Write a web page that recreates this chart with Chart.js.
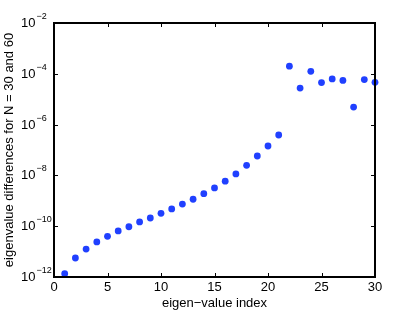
<!DOCTYPE html>
<html>
<head>
<meta charset="utf-8">
<script src="https://cdn.jsdelivr.net/npm/chart.js@4"></script>
<style>
  html, body { margin: 0; padding: 0; background: #fff; }
  #wrap { width: 413px; height: 311px; }
</style>
</head>
<body>
<div id="wrap"><canvas id="chart"></canvas></div>
<script>
const xIndex = [1, 2, 3, 4, 5, 6, 7, 8, 9, 10, 11, 12, 13, 14, 15, 16, 17, 18, 19, 20, 21, 22, 23, 24, 25, 26, 27, 28, 29, 30];
const yDiffs = [1.35e-12, 5.6e-12, 1.26e-11, 2.4e-11, 4.0e-11, 6.5e-11, 9.5e-11, 1.47e-10, 2.1e-10, 3.2e-10,
  4.8e-10, 7.4e-10, 1.15e-9, 1.9e-9, 3.2e-9, 5.9e-9, 1.14e-8, 2.5e-8, 5.8e-8, 1.44e-7,
  3.9e-7, 2.0e-4, 2.75e-5, 1.25e-4, 4.5e-5, 6.3e-5, 5.5e-5, 4.9e-6, 5.9e-5, 4.6e-5];
const yTickExps = [-12, -10, -8, -6, -4, -2];
const xTicks = [0, 5, 10, 15, 20, 25, 30];

const font = '"Liberation Sans", Arial, sans-serif';

const points = xIndex.map((x, i) => ({ x: x, y: yDiffs[i] }));

// box, inward ticks and 10^n labels like matlab
const boxPlugin = {
  id: "box",
  afterDraw(chart) {
    const ctx = chart.ctx;
    const a = chart.chartArea;
    const xs = chart.scales.x, ys = chart.scales.y;
    ctx.save();
    ctx.strokeStyle = "#000";
    ctx.lineWidth = 1;
    xTicks.forEach(t => {
      const px = Math.round(xs.getPixelForValue(t)) + 0.5;
      ctx.beginPath();
      ctx.moveTo(px, a.bottom); ctx.lineTo(px, a.bottom - 4);
      ctx.moveTo(px, a.top); ctx.lineTo(px, a.top + 4);
      ctx.stroke();
    });
    yTickExps.forEach(e => {
      const py = Math.round(ys.getPixelForValue(Math.pow(10, e))) + 0.5;
      ctx.beginPath();
      ctx.moveTo(a.left, py); ctx.lineTo(a.left + 4, py);
      ctx.moveTo(a.right, py); ctx.lineTo(a.right - 4, py);
      ctx.stroke();
      ctx.fillStyle = "#000";
      ctx.textBaseline = "middle";
      ctx.textAlign = "left";
      ctx.font = "13px " + font;
      ctx.fillText("10", 21, py);
      const w = ctx.measureText("10").width;
      ctx.font = "9px " + font;
      ctx.fillText("\u2212" + Math.abs(e), 21 + w + 1, py - 7);
    });
    ctx.lineWidth = 2;
    ctx.strokeRect(a.left, a.top, a.right - a.left, a.bottom - a.top);
    ctx.restore();
  }
};

new Chart(document.getElementById("chart"), {
  type: "scatter",
  data: {
    datasets: [{
      data: points,
      backgroundColor: "#2040ff",
      borderColor: "#2040ff",
      pointRadius: 3.4,
      borderWidth: 0,
      clip: false
    }]
  },
  options: {
    responsive: true,
    maintainAspectRatio: false,
    animation: false,
    events: [],
    layout: { padding: { top: 23, right: 38, left: 0, bottom: 0 } },
    plugins: { legend: { display: false }, tooltip: { enabled: false } },
    scales: {
      x: {
        type: "linear",
        min: 0, max: 30,
        afterBuildTicks(scale) { scale.ticks = xTicks.map(v => ({ value: v })); },
        afterFit(scale) { scale.height = 34; },
        grid: { display: false, drawTicks: false },
        border: { display: false },
        ticks: { color: "#000", padding: 3, font: { family: font, size: 13 } },
        title: {
          display: true, text: "eigen\u2212value index", color: "#000",
          font: { family: font, size: 13 }, padding: { top: 0, bottom: 0 }
        }
      },
      y: {
        type: "logarithmic",
        min: 1e-12, max: 1e-2,
        afterFit(scale) { scale.width = 54; },
        grid: { display: false, drawTicks: false },
        border: { display: false },
        ticks: { display: false },
        title: {
          display: true, text: "eigenvalue differences for N = 30 and 60", color: "#000",
          font: { family: font, size: 13 }, padding: { top: 2, bottom: 0 }
        }
      }
    }
  },
  plugins: [boxPlugin]
});
</script>
</body>
</html>
